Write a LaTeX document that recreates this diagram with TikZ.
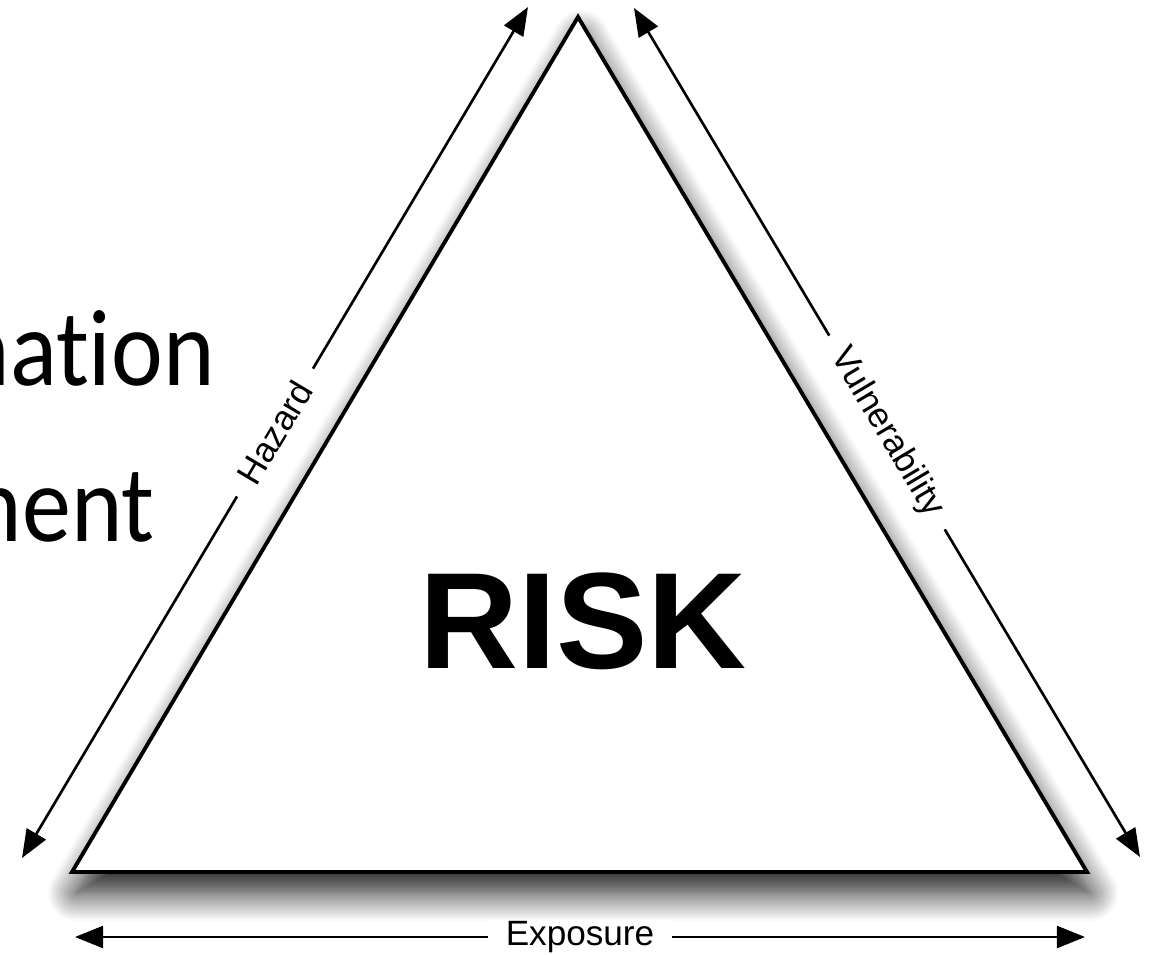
\documentclass[tikz,border=0pt]{standalone}
\usepackage{fontspec}
\setmainfont{Liberation Sans}
\newfontfamily\slidefont[Ligatures=NoCommon]{Carlito}
\usetikzlibrary{arrows.meta,shadows.blur}

\begin{document}
\begin{tikzpicture}
  [x=0.02cm,y=-0.02cm,
   arr/.style={line width=1.5pt,{Triangle[length=16pt,width=12.5pt,fill=black]}-{Triangle[length=16pt,width=12.5pt,fill=black]}},
   lbl/.style={fill=white,inner xsep=10pt,inner ysep=1pt,font=\fontsize{20}{20}\selectfont},
   slide/.style={anchor=base east,inner sep=0pt,font=\slidefont\fontsize{62}{62}\selectfont},
   tri/.style={draw,line width=2.2pt,fill=white,line join=miter,
     blur shadow={shadow xshift=2pt,shadow yshift=-12pt,shadow blur radius=16pt,shadow opacity=90,shadow blur steps=14}}]
  \path[use as bounding box,clip] (0,0) rectangle (1153,954);

  % slide text left behind the figure
  \node[slide] (w1) at (215,385) {\scalebox{0.9}[1]{nat\kern0pt ion}};
  \node[slide] (w2) at (155,541) {\scalebox{0.9}[1]{nent}};

  % triangle
  \coordinate (top) at (578,17);
  \coordinate (bl) at (72,872);
  \coordinate (br) at (1087,872);
  \filldraw[tri] (top) -- (br) -- (bl) -- cycle;

  \node[anchor=base,inner sep=0pt,font=\bfseries\fontsize{78}{78}\selectfont] (risk) at (583,668) {RISK};

  % arrows along the sides
  \coordinate (h1) at (528,7);
  \coordinate (h2) at (22,858);
  \coordinate (v1) at (634,8);
  \coordinate (v2) at (1140,857);
  \coordinate (e1) at (75,937);
  \coordinate (e2) at (1085,937);

  \draw[arr] (h1) -- node[lbl,sloped] (haz) {Hazard} (h2);
  \draw[arr] (v1) -- node[lbl,sloped] (vul) {Vulnerability} (v2);
  \draw[arr] (e1) -- node[lbl] (exp) {Exposure} (e2);

\end{tikzpicture}
\end{document}
